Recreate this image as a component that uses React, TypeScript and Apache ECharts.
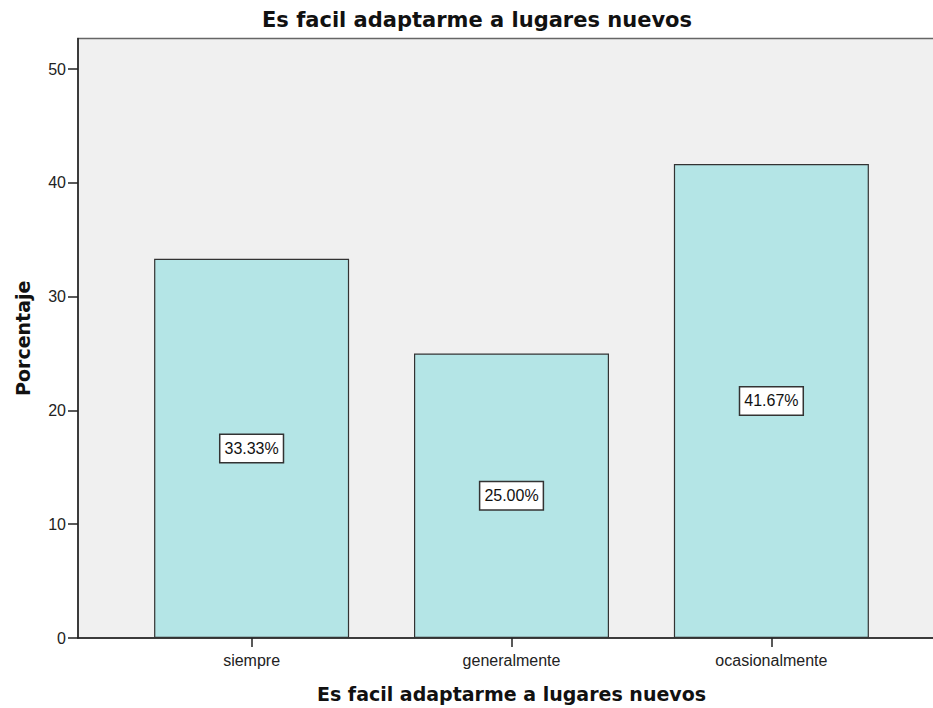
import React, { useEffect, useRef } from "react";
import * as echarts from "echarts";

const categories = ["siempre", "generalmente", "ocasionalmente"];
const percentages = [33.33, 25.0, 41.67];
const yTickValues = [0, 10, 20, 30, 40, 50];
const chartTitle = "Es facil adaptarme a lugares nuevos";
const xAxisTitle = "Es facil adaptarme a lugares nuevos";
const yAxisTitle = "Porcentaje";

export default function App() {
  const ref = useRef<HTMLDivElement>(null);
  useEffect(() => {
    if (!ref.current) return;
    const chart = echarts.init(ref.current, null, { renderer: "svg" });
    const catIdx = categories.map((_, i) => i);
    chart.setOption({
      animation: false,
      backgroundColor: "#ffffff",
      title: {
        text: chartTitle,
        left: 257,
        top: 4,
        textStyle: {
          fontFamily: "DejaVu Sans",
          fontWeight: "bold",
          fontSize: 21,
          color: "#111",
        },
      },
      grid: {
        left: 78,
        top: 38.5,
        right: 0,
        bottom: 67.7,
        show: true,
        backgroundColor: "#f0f0f0",
        borderColor: "#666",
        borderWidth: 1.5,
        containLabel: false,
      },
      xAxis: {
        type: "value",
        min: -0.668,
        max: 2.668,
        name: xAxisTitle,
        nameLocation: "middle",
        nameGap: 46,
        nameTextStyle: {
          fontFamily: "DejaVu Sans",
          fontWeight: "bold",
          fontSize: 19,
          color: "#111",
        },
        axisLine: { show: true, onZero: false, lineStyle: { color: "#222", width: 1.5 } },
        axisTick: {
          show: true,
          length: 9,
          customValues: catIdx,
          lineStyle: { color: "#222", width: 1.5 },
        },
        axisLabel: {
          customValues: catIdx,
          formatter: (v: number) => categories[Math.round(v)] ?? "",
          fontFamily: "Liberation Sans",
          fontSize: 16,
          color: "#222",
          margin: 14,
        },
        splitLine: { show: false },
      },
      yAxis: {
        type: "value",
        min: 0,
        max: 52.7,
        name: yAxisTitle,
        nameLocation: "middle",
        nameGap: 46,
        nameTextStyle: {
          fontFamily: "DejaVu Sans",
          fontWeight: "bold",
          fontSize: 19,
          color: "#111",
        },
        axisLine: { show: true, onZero: false, lineStyle: { color: "#222", width: 1.5 } },
        axisTick: {
          show: true,
          length: 10,
          customValues: yTickValues,
          lineStyle: { color: "#222", width: 1.5 },
        },
        axisLabel: {
          customValues: yTickValues,
          fontFamily: "Liberation Sans",
          fontSize: 16,
          color: "#222",
          margin: 12,
        },
        splitLine: { show: false },
      },
      series: [
        {
          type: "bar",
          barWidth: 195,
          data: percentages.map((v, i) => [i, v]),
          itemStyle: {
            color: "#b4e5e6",
            borderColor: "#333",
            borderWidth: 1.2,
          },
          label: {
            show: true,
            position: "inside",
            formatter: (p: any) => `${p.value[1].toFixed(2)}%`,
            fontFamily: "Liberation Sans",
            fontSize: 16,
            color: "#111",
            backgroundColor: "#ffffff",
            borderColor: "#333",
            borderWidth: 1.5,
            padding: [6, 4, 5, 4],
          },
        },
      ],
    });
    return () => chart.dispose();
  }, []);
  return (
    <div style={{ position: "absolute", left: 0, top: 0, width: 933, height: 708, overflow: "hidden" }}>
      <div ref={ref} style={{ width: 945, height: 708 }} />
    </div>
  );
}
